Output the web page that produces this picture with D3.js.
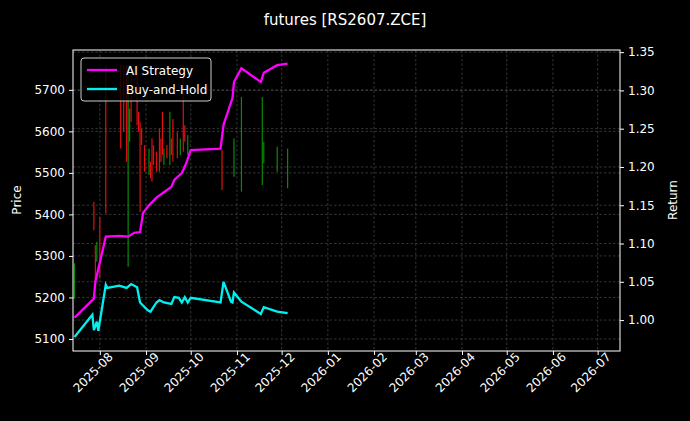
<!DOCTYPE html>
<html><head><meta charset="utf-8">
<script src="https://cdn.jsdelivr.net/npm/d3@7"></script>
<style>body{margin:0;background:#000}svg{display:block;font-family:"DejaVu Sans",sans-serif}</style>
</head><body><svg width="690" height="421"></svg>
<script>
// AI strategy equity curve
const stratDates = ["2025-07-15","2025-07-28","2025-07-29","2025-08-05","2025-08-14","2025-08-20","2025-08-24","2025-08-28","2025-08-30","2025-09-03","2025-09-08","2025-09-13","2025-09-18","2025-09-20","2025-09-25","2025-09-28","2025-10-01","2025-10-21","2025-10-23","2025-10-29","2025-10-30","2025-11-04","2025-11-17","2025-11-19","2025-11-28","2025-12-05"];
const stratValues = [1.003,1.028,1.050,1.109,1.110,1.109,1.114,1.115,1.140,1.150,1.160,1.167,1.174,1.183,1.192,1.205,1.222,1.224,1.255,1.290,1.311,1.329,1.311,1.323,1.333,1.335];
// buy and hold
const bhDates = ["2025-07-15","2025-07-27","2025-07-28","2025-07-30","2025-07-31","2025-08-05","2025-08-06","2025-08-14","2025-08-19","2025-08-22","2025-08-26","2025-08-28","2025-09-02","2025-09-04","2025-09-08","2025-09-10","2025-09-13","2025-09-18","2025-09-20","2025-09-23","2025-09-25","2025-09-27","2025-09-29","2025-10-01","2025-10-21","2025-10-23","2025-10-28","2025-10-29","2025-10-30","2025-11-04","2025-11-17","2025-11-19","2025-11-28","2025-12-05"];
const bhValues = [0.978,1.007,0.987,0.998,0.986,1.046,1.042,1.045,1.042,1.047,1.043,1.023,1.013,1.011,1.023,1.026,1.023,1.021,1.030,1.029,1.023,1.030,1.023,1.029,1.023,1.050,1.024,1.023,1.036,1.024,1.008,1.017,1.011,1.009];
// price wicks
const candleDates = ["2025-07-15","2025-07-28","2025-07-29","2025-07-30","2025-08-01","2025-08-05","2025-08-15","2025-08-17","2025-08-19","2025-08-20","2025-08-21","2025-08-22","2025-08-26","2025-08-27","2025-08-28","2025-08-29","2025-08-31","2025-09-03","2025-09-04","2025-09-05","2025-09-06","2025-09-08","2025-09-10","2025-09-11","2025-09-12","2025-09-13","2025-09-15","2025-09-17","2025-09-18","2025-09-19","2025-09-22","2025-09-24","2025-09-26","2025-09-27","2025-09-29","2025-10-22","2025-10-30","2025-11-04","2025-11-18","2025-11-19","2025-11-28","2025-12-05"];
const candleHigh = [5282,5430,5326,5334,5394,5760,5760,5760,5760,5760,5655,5760,5760,5647,5623,5607,5567,5559,5527,5583,5567,5551,5607,5583,5647,5559,5567,5647,5583,5630,5599,5583,5760,5615,5591,5555,5583,5683,5683,5575,5563,5559];
const candleLow = [5197,5362,5238,5286,5246,5402,5559,5599,5527,5274,5575,5623,5615,5599,5406,5567,5503,5495,5487,5479,5519,5503,5503,5527,5543,5519,5535,5519,5543,5527,5535,5543,5551,5575,5543,5459,5491,5455,5471,5523,5503,5463];
const candleUp = [1,0,0,1,0,0,0,0,0,1,1,0,0,0,0,0,0,1,0,0,0,0,0,0,0,1,0,1,0,0,0,1,0,0,1,0,1,1,1,1,1,1];
const priceTicks = [5100,5200,5300,5400,5500,5600,5700];
const returnTicks = [1.00,1.05,1.10,1.15,1.20,1.25,1.30,1.35];

const parse = d3.timeParse("%Y-%m-%d");
const svg = d3.select("svg");
const L = 73, R = 620, T = 50, B = 351;

const x = d3.scaleTime().domain([parse("2025-07-14"), parse("2026-07-16")]).range([L, R]);
const yP = d3.scaleLinear().domain([5071, 5796]).range([B, T]);
const yR = d3.scaleLinear().domain([0.9596, 1.3528]).range([B, T]);

svg.append("text").attr("x", 345).attr("y", 25).attr("text-anchor", "middle")
  .attr("fill", "#fff").attr("font-size", 15).text("futures [RS2607.ZCE]");

const months = d3.timeMonth.range(parse("2025-08-01"), parse("2026-07-02"));
const grid = svg.append("g").attr("stroke", "#555").attr("stroke-width", 0.6).attr("stroke-dasharray", "2.5,2");
grid.selectAll(".gx").data(months).join("line").attr("x1", d => x(d)).attr("x2", d => x(d)).attr("y1", T).attr("y2", B);
grid.selectAll(".gp").data(priceTicks).join("line").attr("x1", L).attr("x2", R).attr("y1", d => yP(d)).attr("y2", d => yP(d));
grid.selectAll(".gr").data(returnTicks).join("line").attr("x1", L).attr("x2", R).attr("y1", d => yR(d)).attr("y2", d => yR(d));

svg.append("clipPath").attr("id", "c").append("rect").attr("x", L).attr("y", T).attr("width", R - L).attr("height", B - T);
const plot = svg.append("g").attr("clip-path", "url(#c)");

plot.selectAll(".wick").data(candleDates).join("line")
  .attr("x1", d => x(parse(d))).attr("x2", d => x(parse(d)))
  .attr("y1", (d, i) => yP(candleHigh[i])).attr("y2", (d, i) => yP(candleLow[i]))
  .attr("stroke", (d, i) => candleUp[i] ? "#0a8a0a" : "#e01010").attr("stroke-width", 1.2);

const line = (dates, vals) => d3.line().x((d, i) => x(parse(dates[i]))).y((d, i) => yR(vals[i]))(vals);
plot.append("path").attr("d", line(stratDates, stratValues)).attr("fill", "none").attr("stroke", "#ff00ff").attr("stroke-width", 2.3);
plot.append("path").attr("d", line(bhDates, bhValues)).attr("fill", "none").attr("stroke", "#00f0f0").attr("stroke-width", 2.3);

svg.append("rect").attr("x", L).attr("y", T).attr("width", R - L).attr("height", B - T).attr("fill", "none").attr("stroke", "#fff").attr("stroke-width", 1);

const style = g => { g.select(".domain").remove(); g.selectAll("line").attr("stroke", "#fff"); g.selectAll("text").attr("fill", "#fff").attr("font-size", 12).attr("font-family", "DejaVu Sans"); };
svg.append("g").attr("transform", `translate(${L},0)`).call(d3.axisLeft(yP).tickValues(priceTicks).tickFormat(d3.format("d")).tickSize(4).tickPadding(4)).call(style);
svg.append("g").attr("transform", `translate(${R},0)`).call(d3.axisRight(yR).tickValues(returnTicks).tickFormat(d3.format(".2f")).tickSize(4).tickPadding(4)).call(style);
const xa = svg.append("g").attr("transform", `translate(0,${B})`).call(d3.axisBottom(x).tickValues(months).tickFormat(d3.timeFormat("%Y-%m")).tickSize(4)).call(style);
xa.selectAll("text").attr("text-anchor", "end").attr("dx", "0.4em").attr("dy", "0.6em").attr("transform", "rotate(-45)");

svg.append("text").attr("transform", "translate(21,200) rotate(-90)").attr("text-anchor", "middle").attr("fill", "#fff").attr("font-size", 12).text("Price");
svg.append("text").attr("transform", "translate(677,200) rotate(-90)").attr("text-anchor", "middle").attr("fill", "#fff").attr("font-size", 12).text("Return");

const lg = svg.append("g");
lg.append("rect").attr("x", 81).attr("y", 58).attr("width", 130).attr("height", 43).attr("rx", 3).attr("fill", "#000").attr("fill-opacity", 0.8).attr("stroke", "#ccc");
const items = [["AI Strategy", "#ff00ff"], ["Buy-and-Hold", "#00f0f0"]];
items.forEach(([t, c], i) => {
  const yy = 70 + i * 19;
  lg.append("line").attr("x1", 87).attr("x2", 117).attr("y1", yy).attr("y2", yy).attr("stroke", c).attr("stroke-width", 2.3);
  lg.append("text").attr("x", 126).attr("y", yy + 4.5).attr("fill", "#fff").attr("font-size", 12).text(t);
});
</script></body></html>
